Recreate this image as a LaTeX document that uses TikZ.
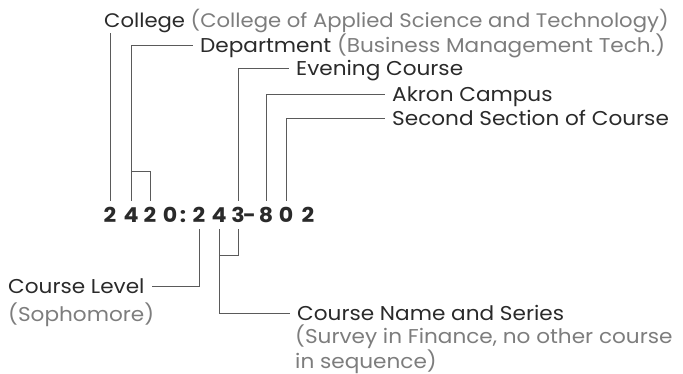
\documentclass[tikz,border=0pt]{standalone}
\usepackage{fontspec}
\setmainfont{Poppins}[FakeStretch=1.08]
\definecolor{txt}{HTML}{2A2A2A}
\definecolor{sub}{HTML}{7D7D7D}
\definecolor{ln}{HTML}{5A5A5A}
\begin{document}
\begin{tikzpicture}[x=1pt,y=-1pt,
  lbl/.style={inner xsep=7pt,inner ysep=0pt,text height=14pt,text depth=0pt,font=\fontsize{20}{20}\selectfont,text=txt},
  dig/.style={inner xsep=0pt,inner ysep=7pt,text height=14.5pt,text depth=0pt,font=\fontsize{20.5}{20}\selectfont\bfseries,text=txt,anchor=base},
  conn/.style={draw=ln,line width=1pt}]
\useasboundingbox (0,0) rectangle (683,374);
% digits
\node[dig] (d1) at (110,222.3) {2};
\node[dig] (d2) at (131,222.3) {4};
\node[dig] (d3) at (150,222.3) {2};
\node[dig] (d4) at (170,222.3) {0};
\node[dig] (d5) at (183,222.3) {:};
\node[dig] (d6) at (199,222.3) {2};
\node[dig] (d7) at (219,222.3) {4};
\node[dig] (d8) at (238,222.3) {3};
\node[dig] (d9) at (249.5,222.3) {-};
\node[dig] (d10) at (266,222.3) {8};
\node[dig] (d11) at (286,222.3) {0};
\node[dig] (d12) at (308,222.3) {2};
% labels
\node[lbl,inner xsep=0pt,anchor=base west,font=\fontsize{19.6}{20}\selectfont] (colg) at (104,27.7) {College \textcolor{sub}{(College of Applied Science and Technology)}};
\node[lbl,anchor=base west] (dept) at (193,52.7) {Department \textcolor{sub}{(Business Management Tech.)}};
\node[lbl,anchor=base west] (even) at (289,76) {Evening Course};
\node[lbl,anchor=base west] (akr) at (385,101.7) {Akron Campus};
\node[lbl,anchor=base west] (sec) at (385,126) {Second Section of Course};
\node[lbl,anchor=base west] (clev) at (1,294) {Course Level};
\node[lbl,anchor=base west,text=sub] (soph) at (1,321) {(Sophomore)};
\node[lbl,anchor=base west] (cname) at (290,320.7) {Course Name and Series};
\node[inner xsep=7pt,inner ysep=0pt,anchor=base west,text=sub,align=left,font=\fontsize{20}{20}\selectfont] (surv) at (288,368.3) {(Survey in Finance, no other course\\in sequence)};
% connectors
\draw[conn] (d1.north) -- ([yshift=-5pt]colg.south -| d1.north);
\draw[conn] (d3.north) |- (d2.north |- 0,172);
\draw[conn] (d2.north) |- (dept.west);
\draw[conn] (d8.north) |- (even.west);
\draw[conn] (d10.north) |- (akr.west);
\draw[conn] (d11.north) |- (sec.west);
\draw[conn] (d6.south) |- (clev.east);
\draw[conn] (d8.south) |- (d7.south |- 0,256);
\draw[conn] (d7.south) |- (cname.west);
\end{tikzpicture}
\end{document}
